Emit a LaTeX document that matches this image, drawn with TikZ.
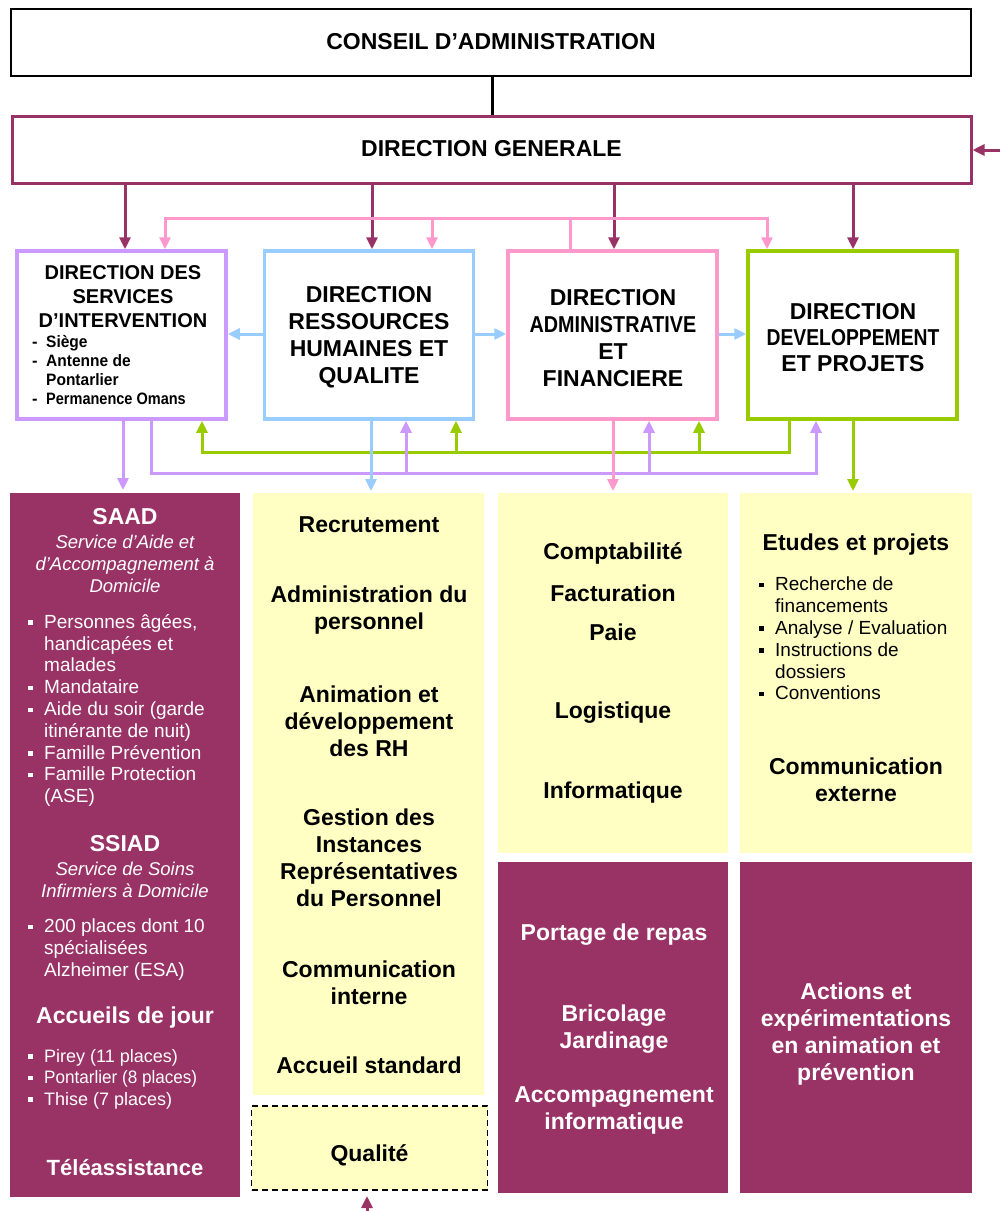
\documentclass[tikz,border=0pt]{standalone}
\usepackage{fontspec}
\setmainfont{Liberation Sans}
\usetikzlibrary{arrows.meta}
\definecolor{mag}{HTML}{993366}
\definecolor{purp}{HTML}{CC99FF}
\definecolor{lblue}{HTML}{99CCFF}
\definecolor{pinkc}{HTML}{FF99CC}
\definecolor{greenc}{HTML}{99CC00}
\definecolor{yel}{HTML}{FFFFC4}
\newcommand{\bulsq}{\makebox[16pt][l]{\raisebox{3.5pt}{\rule{4.5pt}{4.5pt}}}}
\newcommand{\bulind}{\hspace*{16pt}}
\newcommand{\dsh}{\makebox[14pt][l]{-}}
\begin{document}
\begin{tikzpicture}[x=1pt,y=-1pt,
  tip/.style={-{Triangle[length=12pt,width=11pt]}},
  conn/.style={line width=3pt},
  dirbox/.style={draw, line width=3.5pt, fill=white, minimum width=209pt, minimum height=168pt, inner sep=0pt},
  colbox/.style={inner sep=0pt, outer sep=0pt},
  topbox/.style={font=\fontsize{23}{27}\selectfont\bfseries, align=center, inner sep=0pt, minimum height=67pt},
  bt/.style={font=\fontsize{23}{27}\selectfont\bfseries, align=center, inner sep=0pt, yshift=-2.5pt},
  rt/.style={font=\fontsize{19}{21.8}\selectfont, align=left, inner sep=0pt, anchor=west, yshift=-2.5pt},
  itx/.style={font=\fontsize{18.5}{22}\selectfont\itshape, align=center, inner sep=0pt, text=white, yshift=-2.5pt},
]
\useasboundingbox (0,0) rectangle (1000,1211);

% top boxes
\node[topbox, draw=black, line width=2.5pt, minimum width=960pt] (CA) at (491,42.5) {\raisebox{1.5pt}{CONSEIL D’ADMINISTRATION}};
\node[topbox, draw=mag, line width=3pt, minimum width=959pt] (DG) at (491.5,149.5) {\raisebox{2pt}{DIRECTION GENERALE}};

% direction boxes
\node[dirbox, draw=purp] (DSI) at (121.5,335) {};
\node[dirbox, draw=lblue] (DRH) at (369,335) {};
\node[dirbox, draw=pinkc] (DAF) at (612.5,335) {};
\node[dirbox, draw=greenc] (DDP) at (852.5,335) {};

\node[bt, font=\fontsize{20}{24}\selectfont\bfseries] (DSIt) at (123,294) {DIRECTION DES\\SERVICES\\D’INTERVENTION};
\node[inner sep=0pt, anchor=west, align=left, font=\fontsize{16.5}{19}\selectfont\bfseries] (DSIs) at (32,370) {\dsh \scalebox{0.94}[1]{Siège}\\\dsh \scalebox{0.94}[1]{Antenne de}\\\hspace*{14pt}\scalebox{0.94}[1]{Pontarlier}\\\dsh \scalebox{0.88}[1]{Permanence Omans}};
\node[bt] (DRHt) at (369,335) {DIRECTION\\RESSOURCES\\HUMAINES ET\\QUALITE};
\node[bt] (DAFt) at (613,335.5) {DIRECTION\\\scalebox{0.86}[1]{ADMINISTRATIVE}\\ET\\FINANCIERE};
\node[bt, font=\fontsize{23}{26}\selectfont\bfseries] (DDPt) at (853,335) {DIRECTION\\\scalebox{0.84}[1]{DEVELOPPEMENT}\\ET PROJETS};

% bottom column boxes
\node[colbox, fill=mag, minimum width=230pt, minimum height=704pt] (SAAD) at (125,845) {};
\node[colbox, fill=yel, minimum width=231pt, minimum height=602pt] (RH) at (368.5,794) {};
\node[colbox, fill=yel, draw=black, dash pattern=on 6pt off 4pt, line width=1.8pt, minimum width=236pt, minimum height=84pt] (QUAL) at (369.5,1148) {};
\node[colbox, fill=yel, minimum width=230pt, minimum height=360pt] (DAFy) at (613,673) {};
\node[colbox, fill=mag, minimum width=230pt, minimum height=331pt] (DAFm) at (613,1027.5) {};
\node[colbox, fill=yel, minimum width=232pt, minimum height=360pt] (DDPy) at (856,673) {};
\node[colbox, fill=mag, minimum width=232pt, minimum height=331pt] (DDPm) at (856,1027.5) {};

% SAAD column text
\node[bt, text=white] (s1) at (125,514) {SAAD};
\node[itx] (s2) at (125,561) {Service d’Aide et\\d’Accompagnement à\\Domicile};
\node[rt, text=white] (s3) at (28,708) {\bulsq Personnes âgées,\\\bulind handicapées et\\\bulind malades\\\bulsq Mandataire\\\bulsq Aide du soir (garde\\\bulind itinérante de nuit)\\\bulsq Famille Prévention\\\bulsq Famille Protection\\\bulind (ASE)};
\node[bt, text=white] (s4) at (125,841) {SSIAD};
\node[itx] (s5) at (125,877) {Service de Soins\\Infirmiers à Domicile};
\node[rt, text=white] (s6) at (28,947) {\bulsq 200 places dont 10\\\bulind spécialisées\\\bulind Alzheimer (ESA)};
\node[bt, text=white] (s7) at (125,1015) {Accueils de jour};
\node[rt, text=white, font=\fontsize{18}{21.5}\selectfont] (s8) at (28,1076.5) {\bulsq Pirey (11 places)\\\bulsq \scalebox{0.95}[1]{Pontarlier (8 places)}\\\bulsq Thise (7 places)};
\node[bt, text=white, font=\fontsize{22}{26}\selectfont\bfseries] (s9) at (125,1165) {Téléassistance};

% RH column text
\node[bt] (r1) at (369,522) {Recrutement};
\node[bt] (r2) at (369,607.5) {Administration du\\personnel};
\node[bt] (r3) at (369,718.5) {Animation et\\développement\\des RH};
\node[bt] (r4) at (369,855.5) {Gestion des\\Instances\\Représentatives\\du Personnel};
\node[bt] (r5) at (369,980.5) {Communication\\interne};
\node[bt] (r6) at (369,1063) {Accueil standard};
\node[bt] (r7) at (369.5,1153) {Qualité};

% DAF column text
\node[bt] (a1) at (613,551) {Comptabilité};
\node[bt] (a2) at (613,591) {Facturation};
\node[bt] (a3) at (613,630) {Paie};
\node[bt] (a4) at (613,710) {Logistique};
\node[bt] (a5) at (613,790) {Informatique};
\node[bt, text=white] (a6) at (614,932) {Portage de repas};
\node[bt, text=white] (a7) at (614,1026.5) {Bricolage\\Jardinage};
\node[bt, text=white] (a8) at (614,1107.5) {Accompagnement\\informatique};

% DDP column text
\node[bt] (d1) at (856,542) {Etudes et projets};
\node[rt] (d2) at (759,636) {\bulsq Recherche de\\\bulind financements\\\bulsq Analyse / Evaluation\\\bulsq Instructions de\\\bulind dossiers\\\bulsq Conventions};
\node[bt] (d3) at (856,777) {Communication\\externe};
\node[bt, text=white] (d4) at (856,1031.5) {Actions et\\expérimentations\\en animation et\\prévention};

% connectors top
\draw[conn, black] (CA.south -| 492,0) -- (DG.north -| 492,0);
\coordinate (ext) at (1000,150);
\draw[conn, mag, tip] (ext) -- (DG.east |- ext);
\foreach \xx/\nn in {125/DSI, 372/DRH, 614/DAF, 853/DDP}
  \draw[conn, mag, tip] (DG.south -| \xx,0) -- (\nn.north -| \xx,0);

% pink distribution from DAF
\coordinate (pj) at (570,218);
\draw[conn, pinkc] (DAF.north -| pj) -- (pj);
\draw[conn, pinkc, tip] (pj) -| (DSI.north -| 165,0);
\draw[conn, pinkc, tip] (pj) -| (DDP.north -| 767,0);
\draw[conn, pinkc, tip] (pj -| 432,0) -- (DRH.north -| 432,0);

% blue horizontal arrows
\coordinate (hb) at (0,334);
\draw[conn, lblue, tip] (DRH.west |- hb) -- (DSI.east |- hb);
\draw[conn, lblue, tip] (DRH.east |- hb) -- (DAF.west |- hb);
\draw[conn, lblue, tip] (DAF.east |- hb) -- (DDP.west |- hb);

% green bus
\coordinate (gb) at (202,452);
\draw[conn, greenc, tip] (DDP.south -| 789,0) |- (gb) -- (DSI.south -| gb);
\draw[conn, greenc, tip] (gb -| 456,0) -- (DRH.south -| 456,0);
\draw[conn, greenc, tip] (gb -| 699,0) -- (DAF.south -| 699,0);

% purple bus
\coordinate (pb) at (816,473);
\draw[conn, purp, tip] (DSI.south -| 151,0) |- (pb) -- (DDP.south -| pb);
\draw[conn, purp, tip] (pb -| 406,0) -- (DRH.south -| 406,0);
\draw[conn, purp, tip] (pb -| 649,0) -- (DAF.south -| 649,0);

% down arrows to columns
\draw[conn, purp, tip, shorten >=3pt] (DSI.south -| 123,0) -- (SAAD.north -| 123,0);
\draw[conn, lblue, tip, shorten >=2pt] (DRH.south -| 371,0) -- (RH.north -| 371,0);
\draw[conn, pinkc, tip, shorten >=2pt] (DAF.south -| 613,0) -- (DAFy.north -| 613,0);
\draw[conn, greenc, tip, shorten >=2pt] (DDP.south -| 853,0) -- (DDPy.north -| 853,0);

% arrow to Qualite
\coordinate (qb) at (367,1213);
\draw[conn, mag, tip, shorten >=6pt] (qb) -- (QUAL.south -| qb);
\end{tikzpicture}
\end{document}
